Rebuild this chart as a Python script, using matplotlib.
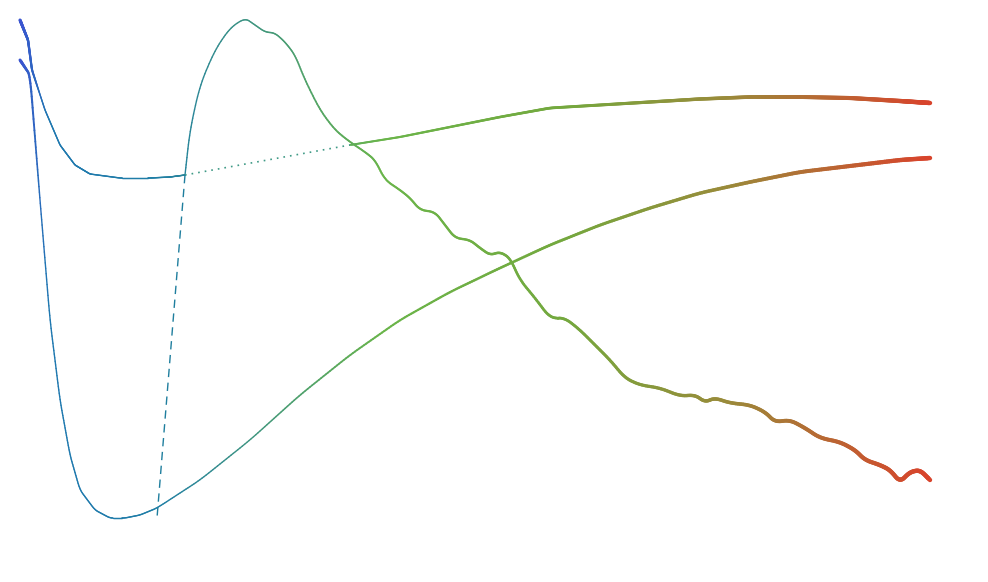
import numpy as np
import matplotlib
matplotlib.use("Agg")
import matplotlib.pyplot as plt
from matplotlib.collections import LineCollection
from matplotlib.colors import LinearSegmentedColormap

# curve traced in canvas units (x right, y down)
low_x = [20, 30, 40, 50, 60, 70, 80, 95, 110, 125, 140, 157, 200, 250, 300, 350, 400, 450,
         500, 550, 600, 650, 700, 750, 800, 850, 900, 930]
low_y = [60, 75, 200, 320, 400, 455, 490, 510, 518, 518, 515, 508, 480, 440, 395, 355, 320, 292,
         268, 245, 225, 208, 193, 182, 172, 166, 160, 158]

left_x = [20, 28, 32, 45, 60, 75, 90, 120, 150, 170, 185]
left_y = [20, 40, 70, 110, 145, 165, 174, 178, 178, 177, 175]

gap_x = [185, 350]
gap_y = [175, 145]

upper_x = [350, 400, 450, 500, 550, 600, 650, 700, 750, 800, 850, 900, 930]
upper_y = [145, 137, 127, 117, 108, 105, 102, 99, 97, 97, 98, 101, 103]

fall_x = [185, 190, 200, 215, 230, 245, 255, 265, 275, 285, 295, 305, 320, 335, 350, 365, 375,
          385, 400, 410, 420, 435, 445, 455, 470, 480, 490, 500, 510, 520, 535, 550, 565, 580,
          595, 610, 625, 640, 660, 680, 695, 705, 715, 730, 750, 765, 775, 790, 805, 820, 840,
          855, 865, 880, 890, 900, 910, 920, 930]
fall_y = [175, 130, 85, 50, 28, 18, 25, 32, 33, 42, 55, 80, 110, 130, 142, 152, 160, 180, 190,
          198, 210, 212, 225, 238, 240, 248, 255, 252, 258, 280, 298, 318, 318, 330, 345, 360,
          378, 385, 388, 396, 395, 402, 398, 403, 405, 412, 422, 420, 428, 438, 442, 450, 460,
          465, 470, 482, 472, 470, 480]

drop_x = [185, 157]
drop_y = [175, 518]

cmap = LinearSegmentedColormap.from_list(
    "grad", [(0, "#3a55d0"), (0.03, "#1f78b0"), (0.15, "#1f7ea6"), (0.4, "#6ab54a"),
             (0.6, "#74a83e"), (0.78, "#9a8a3a"), (1, "#d8442c")])


def smooth(v, k=9):
    v = np.asarray(v, float)
    pad = np.concatenate([np.full(k, v[0]), v, np.full(k, v[-1])])
    out = np.convolve(pad, np.ones(k) / k, mode="same")[k:-k]
    out[0], out[-1] = v[0], v[-1]
    return out


def draw(ax, xs, ys):
    t = np.linspace(0, len(xs) - 1, 600)
    x = smooth(np.interp(t, np.arange(len(xs)), xs))
    y = smooth(np.interp(t, np.arange(len(ys)), ys))
    pts = np.column_stack([x, y]).reshape(-1, 1, 2)
    segs = np.concatenate([pts[:-1], pts[1:]], axis=1)
    xm = (x[:-1] + x[1:]) / 2
    cols = cmap((xm - 20) / 910)
    w = 1.0 + 2.2 * np.clip((xm - 250) / 680, 0, 1) + 1.2 * np.clip((40 - xm) / 20, 0, 1)
    ax.add_collection(LineCollection(segs, colors=cols, linewidths=w, capstyle="round"))


fig = plt.figure(figsize=(9.88, 5.82), dpi=100)
ax = fig.add_axes([0, 0, 1, 1])
ax.set_xlim(0, 988)
ax.set_ylim(582, 0)
ax.axis("off")

draw(ax, low_x, low_y)
draw(ax, left_x, left_y)
draw(ax, upper_x, upper_y)
draw(ax, fall_x, fall_y)
ax.plot(gap_x, gap_y, color="#3f9a86", lw=1.2, ls=(0, (1, 3)))
ax.plot(drop_x, drop_y, color="#1f7e9e", lw=1.0, ls=(0, (6, 4)))

fig.savefig("out.png", dpi=100)
